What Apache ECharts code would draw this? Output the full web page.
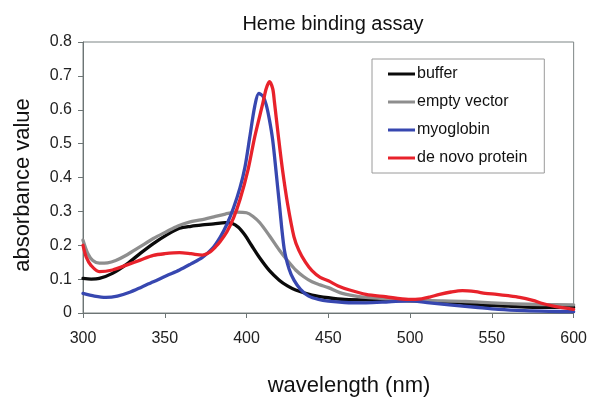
<!DOCTYPE html>
<html>
<head>
<meta charset="utf-8">
<script src="https://cdn.jsdelivr.net/npm/echarts@6/dist/echarts.min.js"></script>
<style>html,body{margin:0;padding:0;background:#fff;}#c{width:590px;height:400px;}</style>
</head>
<body>
<div id="c"></div>
<script>
var xTicks = [300, 350, 400, 450, 500, 550, 600];
var yTicks = [0, 0.1, 0.2, 0.3, 0.4, 0.5, 0.6, 0.7, 0.8];
var seriesNames = ['buffer', 'empty vector', 'myoglobin', 'de novo protein'];

var bufferWl  = [300,305,310,318,327,335,343,351,359,366,373,380,387,391,395,399,403,408,414,420,425,430,440,450,460,483,500,514,530,544,560,575,590,600];
var bufferAbs = [0.102,0.100,0.102,0.117,0.145,0.176,0.205,0.230,0.250,0.256,0.260,0.263,0.267,0.265,0.253,0.230,0.200,0.163,0.125,0.097,0.080,0.068,0.053,0.045,0.040,0.038,0.036,0.034,0.030,0.023,0.020,0.017,0.017,0.017];

var emptyWl  = [300,303,306,310,315,320,327,335,343,351,358,365,372,380,387,394,400,404,408,414,420,425,430,435,440,445,450,457,465,473,485,500,520,534,550,564,580,600];
var emptyAbs = [0.215,0.175,0.155,0.147,0.148,0.155,0.172,0.196,0.220,0.240,0.257,0.268,0.275,0.284,0.292,0.298,0.296,0.285,0.267,0.228,0.186,0.155,0.127,0.107,0.092,0.083,0.075,0.060,0.051,0.046,0.042,0.038,0.036,0.034,0.030,0.027,0.025,0.024];

var myoWl  = [300,307,314,321,329,336,343,351,359,366,373,379,384,388,392,396,399,402,405,407.5,410,412,414,416,418,420,423,426,429,433,438,444,450,460,473,487,500,512,524,540,554,570,585,600];
var myoAbs = [0.058,0.050,0.046,0.050,0.062,0.077,0.092,0.110,0.127,0.145,0.164,0.190,0.225,0.262,0.310,0.370,0.430,0.520,0.610,0.648,0.640,0.615,0.570,0.510,0.420,0.325,0.190,0.130,0.097,0.070,0.050,0.040,0.035,0.031,0.030,0.033,0.036,0.030,0.024,0.017,0.011,0.007,0.005,0.004];

var novoWl  = [300,302,305,310,318,327,335,343,350,359,366,373,377,381,384,388,392,396,401,405,410,412,414,416,417,419.5,422,425,429,432,436,440,445,450,456,463,473,485,499,507,512,518,525,532,540,546,553,560,567,575,581,587,594,600];
var novoAbs = [0.200,0.165,0.140,0.122,0.127,0.142,0.156,0.170,0.175,0.178,0.175,0.171,0.178,0.195,0.212,0.240,0.280,0.335,0.425,0.520,0.620,0.662,0.683,0.662,0.625,0.520,0.422,0.325,0.225,0.185,0.150,0.125,0.105,0.095,0.080,0.068,0.055,0.048,0.040,0.042,0.047,0.055,0.062,0.066,0.063,0.058,0.055,0.051,0.046,0.037,0.028,0.021,0.015,0.011];

function pairs(xs, ys) { return xs.map(function (x, i) { return [x, ys[i]]; }); }

var colors = ['#0a0a0a', '#8e8e8e', '#3747b0', '#e8222b'];
var dataSets = [pairs(bufferWl, bufferAbs), pairs(emptyWl, emptyAbs), pairs(myoWl, myoAbs), pairs(novoWl, novoAbs)];

var chart = echarts.init(document.getElementById('c'), null, {renderer: 'canvas'});
var font = 'Liberation Sans, Arial, sans-serif';
chart.setOption({
  animation: false,
  backgroundColor: '#ffffff',
  title: {
    text: 'Heme binding assay', left: 328, top: 9, textAlign: 'center',
    textStyle: {fontFamily: font, fontSize: 20, fontWeight: 'normal', color: '#111'}
  },
  grid: {left: 83, right: 15, top: 42, bottom: 87, show: true, borderColor: '#7d8585', borderWidth: 1},
  legend: {
    orient: 'vertical', left: 372, top: 59,
    data: seriesNames,
    icon: 'rect',
    itemWidth: 27, itemHeight: 3, itemGap: 10,
    padding: [6, 17, 6, 16],
    borderColor: '#9a9a9a', borderWidth: 1,
    textStyle: {fontFamily: font, fontSize: 16, color: '#111', padding: [0, 0, 0, -3], lineHeight: 18}
  },
  xAxis: {
    type: 'value', min: xTicks[0], max: xTicks[xTicks.length - 1], interval: 50,
    axisLine: {show: true, lineStyle: {color: '#6d7575', width: 1}},
    axisTick: {show: true, length: 5, inside: false, lineStyle: {color: '#6d7575'}},
    axisLabel: {fontFamily: font, fontSize: 16, color: '#222', margin: 18},
    splitLine: {show: false}
  },
  yAxis: {
    type: 'value', min: yTicks[0], max: yTicks[yTicks.length - 1], interval: 0.1,
    axisLine: {show: true, lineStyle: {color: '#6d7575', width: 1}},
    axisTick: {show: true, length: 5, inside: false, lineStyle: {color: '#6d7575'}},
    axisLabel: {fontFamily: font, fontSize: 16, color: '#222', margin: 11},
    splitLine: {show: false}
  },
  graphic: [
    {type: 'text', x: 349, y: 386, style: {text: 'wavelength (nm)', align: 'center', verticalAlign: 'middle', font: '22px ' + font, fill: '#111'}},
    {type: 'text', x: 23, y: 185, rotation: Math.PI / 2, style: {text: 'absorbance value', align: 'center', verticalAlign: 'middle', font: '22px ' + font, fill: '#111'}}
  ],
  series: seriesNames.map(function (n, i) {
    return {
      name: n, type: 'line', data: dataSets[i], smooth: 0.3, symbol: 'none',
      lineStyle: {color: colors[i], width: 3.3, join: 'round', cap: 'round'}, itemStyle: {color: colors[i]},
      z: 2 + i
    };
  })
});
</script>
</body>
</html>
